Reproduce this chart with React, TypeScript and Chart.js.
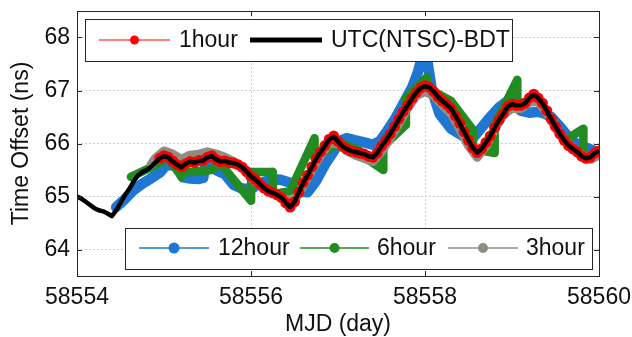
import React, { useEffect, useRef } from 'react';
import { Chart, registerables } from 'chart.js';

Chart.register(...registerables);

// ---- axis ticks ----
const xTicks = [58554, 58556, 58558, 58560];
const yTicks = [64, 65, 66, 67, 68];
const xRange = [58554, 58560];
const yRange = [63.5, 68.5];

// ---- UTC(NTSC)-BDT (sampled every 0.05 day from 58554.00) ----
const utcStart = 58554.0;
const utcStep = 0.05;
const utcValues = [
  65.00, 64.96, 64.90, 64.84, 64.78, 64.74, 64.72, 64.68, 64.63, 64.74,
  64.88, 65.02, 65.14, 65.28, 65.40, 65.46, 65.50, 65.56, 65.64,
  65.72, 65.76, 65.74, 65.66, 65.60, 65.55, 65.62, 65.66, 65.64, 65.67, 65.68,
  65.74, 65.76, 65.70, 65.66, 65.67, 65.64, 65.63, 65.60, 65.55, 65.47,
  65.38, 65.32, 65.24, 65.16, 65.10, 65.07, 65.03, 64.98, 64.88, 64.80,
  64.90, 65.08, 65.26, 65.40, 65.56, 65.72, 65.84, 65.96, 66.08, 66.13,
  66.04, 65.95, 65.90, 65.86, 65.84, 65.82, 65.80, 65.76, 65.74, 65.82,
  65.95, 66.06, 66.18, 66.32, 66.46, 66.60, 66.72, 66.85, 66.96, 67.05,
  67.08, 67.06, 66.98, 66.88, 66.80, 66.74, 66.66, 66.52, 66.38, 66.22,
  66.06, 65.92, 65.83, 65.90, 66.02, 66.14, 66.30, 66.44, 66.56, 66.70,
  66.74, 66.72, 66.72, 66.76, 66.86, 66.92, 66.86, 66.76, 66.62, 66.46,
  66.32, 66.18, 66.06, 65.96, 65.90, 65.84, 65.76, 65.72, 65.74, 65.82,
  65.86,
];

// ---- 1hour (sampled every 0.05 day from 58554.95) ----
const oneHourStart = 58554.95;
const oneHourStep = 0.05;
const oneHourValues = [
  65.72, 65.77, 65.74, 65.67, 65.60, 65.56, 65.62, 65.66, 65.64, 65.68, 65.68,
  65.74, 65.77, 65.70, 65.66, 65.67, 65.64, 65.63, 65.60, 65.55, 65.47,
  65.38, 65.32, 65.24, 65.16, 65.10, 65.07, 65.03, 64.98, 64.88, 64.80,
  64.90, 65.08, 65.26, 65.40, 65.56, 65.72, 65.84, 65.96, 66.08, 66.14,
  66.04, 65.95, 65.90, 65.86, 65.84, 65.82, 65.80, 65.76, 65.74, 65.82,
  65.95, 66.06, 66.18, 66.32, 66.46, 66.60, 66.72, 66.85, 66.96, 67.05,
  67.09, 67.06, 66.98, 66.88, 66.80, 66.74, 66.66, 66.52, 66.38, 66.22,
  66.06, 65.92, 65.83, 65.90, 66.02, 66.14, 66.30, 66.44, 66.56, 66.70,
  66.74, 66.72, 66.72, 66.76, 66.86, 66.93, 66.86, 66.76, 66.62, 66.46,
  66.32, 66.18, 66.06, 65.96, 65.90, 65.84, 65.76, 65.72, 65.74, 65.82,
  65.86,
];

// ---- 3hour ----
const threeHourDays = [
  58554.85, 58554.9, 58555.0, 58555.1, 58555.2, 58555.3, 58555.4, 58555.5, 58555.6, 58555.7,
  58555.8, 58555.9, 58556.0, 58556.1, 58556.2, 58556.3, 58556.4, 58556.5, 58556.6, 58556.7,
  58556.8, 58556.9, 58557.0, 58557.1, 58557.2, 58557.3, 58557.4, 58557.5, 58557.6, 58557.7,
  58557.8, 58557.9, 58558.0, 58558.1, 58558.2, 58558.3, 58558.4, 58558.5, 58558.6, 58558.7,
  58558.8, 58558.9, 58559.0, 58559.1, 58559.2, 58559.3, 58559.4, 58559.5, 58559.6, 58559.7,
  58559.8, 58559.9, 58560.0,
];
const threeHourValues = [
  65.60, 65.72, 65.86, 65.80, 65.70, 65.78, 65.80, 65.84, 65.80, 65.74,
  65.66, 65.55, 65.35, 65.22, 65.10, 65.04, 64.95, 64.92, 65.20, 65.50,
  65.78, 66.00, 66.00, 65.86, 65.78, 65.72, 65.66, 65.85, 66.10, 66.38,
  66.66, 66.90, 66.98, 66.90, 66.72, 66.56, 66.28, 65.96, 65.74, 65.95,
  66.26, 66.55, 66.66, 66.66, 66.78, 66.80, 66.58, 66.30, 66.06, 65.92,
  65.78, 65.70, 65.78,
];

// ---- 6hour (segments with jumps) ----
const sixHourDays = [
  58554.62, 58554.85, 58555.02, 58555.05, 58555.2, 58555.21, 58555.55, 58555.65, 58556.0,
  58556.001, 58556.25, 58556.251, 58556.45, 58556.73, 58556.731, 58557.0, 58557.001, 58557.25,
  58557.251, 58557.52, 58557.521, 58557.78, 58557.781, 58558.02, 58558.021, 58558.3, 58558.55,
  58558.551, 58558.8, 58558.801, 58559.06, 58559.061, 58559.3, 58559.6, 58559.601, 58559.82,
  58559.821, 58560.0,
];
const sixHourValues = [
  65.37, 65.55, 65.70, 65.74, 65.37, 65.45, 65.50, 65.62, 64.92,
  65.46, 65.46, 65.05, 65.10, 66.10, 65.72, 66.00, 66.04, 65.86,
  65.80, 65.50, 65.95, 66.35, 66.85, 67.25, 67.05, 66.80, 66.26,
  65.90, 65.82, 66.35, 67.20, 66.74, 66.86, 66.06, 66.05, 66.28,
  65.76, 65.78,
];

// ---- 12hour ----
const twelveHourDays = [
  58554.45, 58554.55, 58554.65, 58554.75, 58554.85, 58554.95, 58555.02, 58555.1, 58555.18, 58555.22,
  58555.3, 58555.4, 58555.45, 58555.48, 58555.55, 58555.62, 58555.7, 58555.8, 58555.9, 58556.0,
  58556.1, 58556.2, 58556.33, 58556.45, 58556.55, 58556.65, 58556.75, 58556.85, 58556.95, 58557.02,
  58557.1, 58557.2, 58557.3, 58557.4, 58557.48, 58557.55, 58557.65, 58557.75, 58557.85, 58557.92,
  58558.0, 58558.08, 58558.17, 58558.3, 58558.4, 58558.5, 58558.55, 58558.65, 58558.75, 58558.85,
  58558.95, 58559.02, 58559.1, 58559.2, 58559.3, 58559.38, 58559.45, 58559.55, 58559.65, 58559.75,
  58559.85, 58559.95, 58560.0,
];
const twelveHourValues = [
  64.80, 64.95, 65.12, 65.24, 65.34, 65.45, 65.58, 65.60, 65.50, 65.36,
  65.34, 65.33, 65.35, 65.62, 65.55, 65.48, 65.42, 65.22, 65.15, 65.14,
  65.25, 65.30, 65.32, 65.26, 65.10, 65.08, 65.30, 65.60, 65.85, 66.05,
  66.10, 66.06, 66.02, 65.98, 66.04, 66.20, 66.45, 66.75, 67.05, 67.35,
  67.85, 67.00, 66.55, 66.28, 66.18, 66.08, 66.10, 66.30, 66.50, 66.68,
  66.80, 66.78, 66.62, 66.58, 66.60, 66.56, 66.50, 66.32, 66.12, 65.98,
  65.92, 65.86, 65.84,
];

const topLegendLabels = ['1hour', 'UTC(NTSC)-BDT'];
const bottomLegendLabels = ['12hour', '6hour', '3hour'];

const C_BLUE = '#1f77d2';
const C_GREEN = '#228b22';
const C_GRAY = '#8f8c82';
const C_RED = '#ff0000';
const C_BLACK = '#000000';
const C_AXIS = '#262626';
const FONT = '"Liberation Sans", Arial, Helvetica, sans-serif';

const fromStep = (start: number, step: number, vals: number[]) =>
  vals.map((v, i) => ({ x: start + i * step, y: v }));
const fromPairs = (days: number[], vals: number[]) => days.map((d, i) => ({ x: d, y: vals[i] }));

const decorPlugin = {
  id: 'decor',
  afterDraw(chart: any) {
    const { ctx, chartArea: ca, scales } = chart;
    const xs = scales.x;
    const ys = scales.y;
    ctx.save();
    ctx.strokeStyle = C_AXIS;
    ctx.lineWidth = 1;
    ctx.beginPath();
    yTicks.forEach((v) => {
      const py = Math.round(ys.getPixelForValue(v)) + 0.5;
      ctx.moveTo(ca.left, py);
      ctx.lineTo(ca.left + 5, py);
      ctx.moveTo(ca.right, py);
      ctx.lineTo(ca.right - 5, py);
    });
    xTicks.forEach((v) => {
      const px = Math.round(xs.getPixelForValue(v)) + 0.5;
      ctx.moveTo(px, ca.bottom);
      ctx.lineTo(px, ca.bottom - 5);
      ctx.moveTo(px, ca.top);
      ctx.lineTo(px, ca.top + 5);
    });
    ctx.stroke();
    ctx.strokeRect(Math.round(ca.left) + 0.5, Math.round(ca.top) + 0.5, Math.round(ca.right - ca.left), Math.round(ca.bottom - ca.top));

    ctx.font = `23px ${FONT}`;
    ctx.textBaseline = 'middle';
    ctx.textAlign = 'left';

    const drawBox = (x: number, y: number, w: number, h: number) => {
      ctx.fillStyle = '#ffffff';
      ctx.fillRect(x, y, w, h);
      ctx.strokeStyle = C_AXIS;
      ctx.lineWidth = 1;
      ctx.strokeRect(Math.round(x) + 0.5, Math.round(y) + 0.5, Math.round(w), Math.round(h));
    };
    const drawItem = (x0: number, x1: number, y: number, color: string, lw: number, r: number, label: string, tx: number) => {
      ctx.strokeStyle = color;
      ctx.lineWidth = lw;
      ctx.beginPath();
      ctx.moveTo(x0, y);
      ctx.lineTo(x1, y);
      ctx.stroke();
      if (r > 0) {
        ctx.fillStyle = color;
        ctx.beginPath();
        ctx.arc((x0 + x1) / 2, y, r, 0, Math.PI * 2);
        ctx.fill();
      }
      ctx.fillStyle = '#111111';
      ctx.fillText(label, tx, y + 1);
    };

    const tL = ca.left + 8;
    const tT = ca.top + 8;
    drawBox(tL, tT, 427, 42);
    const ty = tT + 21;
    drawItem(tL + 14, tL + 85, ty, C_RED, 1, 4.5, topLegendLabels[0], tL + 94);
    drawItem(tL + 165, tL + 237, ty, C_BLACK, 5, 0, topLegendLabels[1], tL + 246);

    const bR = ca.right - 7;
    const bB = ca.bottom - 7;
    const bL = bR - 467;
    const bT = bB - 41;
    drawBox(bL, bT, 467, 41);
    const by = bT + 20;
    drawItem(bL + 14, bL + 84, by, C_BLUE, 1.5, 5.5, bottomLegendLabels[0], bL + 93);
    drawItem(bL + 175, bL + 244, by, C_GREEN, 1.5, 5, bottomLegendLabels[1], bL + 252);
    drawItem(bL + 323, bL + 393, by, C_GRAY, 1.5, 5, bottomLegendLabels[2], bL + 401);
    ctx.restore();
  },
};

export default function App() {
  const ref = useRef<HTMLCanvasElement | null>(null);
  useEffect(() => {
    if (!ref.current) return;
    const thick = (color: string, w: number) => ({
      borderColor: color,
      backgroundColor: color,
      borderWidth: w,
      pointRadius: 0,
      borderCapStyle: 'round',
      borderJoinStyle: 'round',
      tension: 0,
      showLine: true,
    });
    const chart = new Chart(ref.current, {
      type: 'scatter',
      data: {
        datasets: [
          {
            label: topLegendLabels[1],
            data: fromStep(utcStart, utcStep, utcValues),
            borderColor: C_BLACK,
            backgroundColor: C_BLACK,
            borderWidth: 4.5,
            pointRadius: 1.6,
            pointBorderWidth: 0,
            borderJoinStyle: 'round',
            showLine: true,
          },
          {
            label: topLegendLabels[0],
            data: fromStep(oneHourStart, oneHourStep, oneHourValues),
            borderColor: C_RED,
            backgroundColor: C_RED,
            borderWidth: 1,
            pointRadius: 5.5,
            pointBorderWidth: 0,
            showLine: true,
          },
          { label: bottomLegendLabels[2], data: fromPairs(threeHourDays, threeHourValues), ...thick(C_GRAY, 9) },
          { label: bottomLegendLabels[1], data: fromPairs(sixHourDays, sixHourValues), ...thick(C_GREEN, 8.5) },
          { label: bottomLegendLabels[0], data: fromPairs(twelveHourDays, twelveHourValues), ...thick(C_BLUE, 10.5) },
        ] as any,
      },
      options: {
        animation: false,
        responsive: true,
        maintainAspectRatio: false,
        layout: { padding: { top: 11, right: 33, left: 0, bottom: 0 } },
        plugins: { legend: { display: false }, tooltip: { enabled: false } },
        scales: {
          x: {
            type: 'linear',
            min: xRange[0],
            max: xRange[1],
            afterBuildTicks: (s: any) => {
              s.ticks = xTicks.map((v) => ({ value: v }));
            },
            afterFit: (s: any) => {
              s.height = 61;
              s.paddingLeft = 0;
              s.paddingRight = 0;
            },
            ticks: {
              color: '#111111',
              font: { family: FONT, size: 23 },
              padding: 8,
              maxRotation: 0,
              autoSkip: false,
              callback: (v: any) => String(v),
            },
            grid: { color: '#cfcfcf', lineWidth: 1, drawTicks: false },
            border: { display: false, dash: [2, 2] },
            title: {
              display: true,
              text: 'MJD (day)',
              color: '#111111',
              font: { family: FONT, size: 23, lineHeight: 1 },
              padding: { top: 0, bottom: 1 },
            },
          },
          y: {
            type: 'linear',
            min: yRange[0],
            max: yRange[1],
            afterBuildTicks: (s: any) => {
              s.ticks = yTicks.map((v) => ({ value: v }));
            },
            afterFit: (s: any) => {
              s.width = 77;
              s.paddingTop = 0;
              s.paddingBottom = 0;
            },
            ticks: {
              color: '#111111',
              font: { family: FONT, size: 23 },
              padding: 7,
              callback: (v: any) => String(v),
            },
            grid: { color: '#cfcfcf', lineWidth: 1, drawTicks: false },
            border: { display: false, dash: [2, 2] },
            title: {
              display: true,
              text: 'Time Offset (ns)',
              color: '#111111',
              font: { family: FONT, size: 23, lineHeight: 1 },
              padding: { top: 10, bottom: 0 },
            },
          },
        },
      } as any,
      plugins: [decorPlugin],
    });
    return () => chart.destroy();
  }, []);

  return (
    <div style={{ position: 'fixed', left: 0, top: 0, width: 632, height: 337, background: '#fff' }}>
      <canvas ref={ref} />
    </div>
  );
}
